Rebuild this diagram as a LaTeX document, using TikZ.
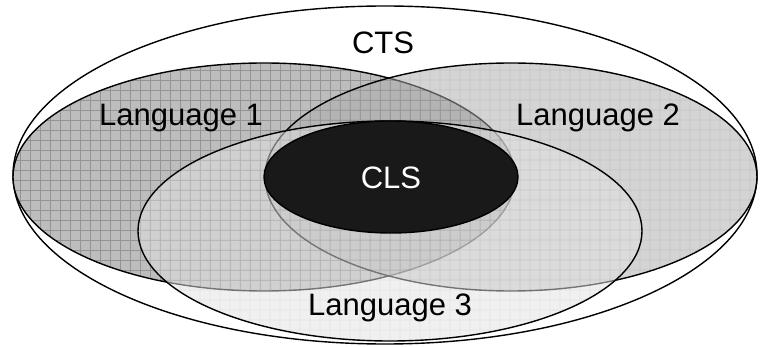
\documentclass[tikz,border=0pt]{standalone}
\usepackage{fontspec}
\setmainfont{Liberation Sans}
\begin{document}
\begin{tikzpicture}[x=1pt,y=-1pt,
  outline/.style={draw=black,line width=1.4pt},
  label/.style={font=\fontsize{31}{36}\selectfont,inner sep=0pt,anchor=center},
  gridlines/.style={step=10pt,line width=0.8pt}]
\definecolor{fillA}{gray}{0.74}
\definecolor{gridA}{gray}{0.58}
\definecolor{fillB}{gray}{0.68}
\definecolor{gridB}{gray}{0.56}
\definecolor{fillC}{gray}{0.89}
\definecolor{gridC}{gray}{0.80}
\definecolor{core}{gray}{0.10}
\useasboundingbox (0,0) rectangle (760,347);

% CTS: outer set
\draw[outline,fill=white] (385,175) ellipse [x radius=372pt, y radius=169pt];

% Language 1
\begin{scope}
  \clip (264,177) ellipse [x radius=251pt, y radius=114pt];
  \fill[fillA] (0,0) rectangle (760,347);
  \draw[gridA,gridlines] (0,0) grid (760,347);
\end{scope}
\draw[outline] (264,177) ellipse [x radius=251pt, y radius=114pt];

% Language 2
\begin{scope}[transparency group,opacity=0.52]
  \clip (511,177) ellipse [x radius=246pt, y radius=114pt];
  \fill[fillB] (0,0) rectangle (760,347);
  \draw[gridB,gridlines] (0,0) grid (760,347);
\end{scope}
\draw[outline] (511,177) ellipse [x radius=246pt, y radius=114pt];

% Language 3
\begin{scope}[transparency group,opacity=0.52]
  \clip (390,231) ellipse [x radius=252pt, y radius=110pt];
  \fill[fillC] (0,0) rectangle (760,347);
  \draw[gridC,gridlines] (0,0) grid (760,347);
\end{scope}
\draw[outline] (390,231) ellipse [x radius=252pt, y radius=110pt];

% CLS: common core
\draw[outline,fill=core] (391,177) ellipse [x radius=127pt, y radius=56pt];

\node[label] (cts) at (383,43) {CTS};
\node[label] (lang1) at (181,118) {Language 1};
\node[label] (lang2) at (598,118) {Language 2};
\node[label] (lang3) at (390,308) {Language 3};
\node[label,text=white] (cls) at (391,178) {CLS};
\end{tikzpicture}
\end{document}
